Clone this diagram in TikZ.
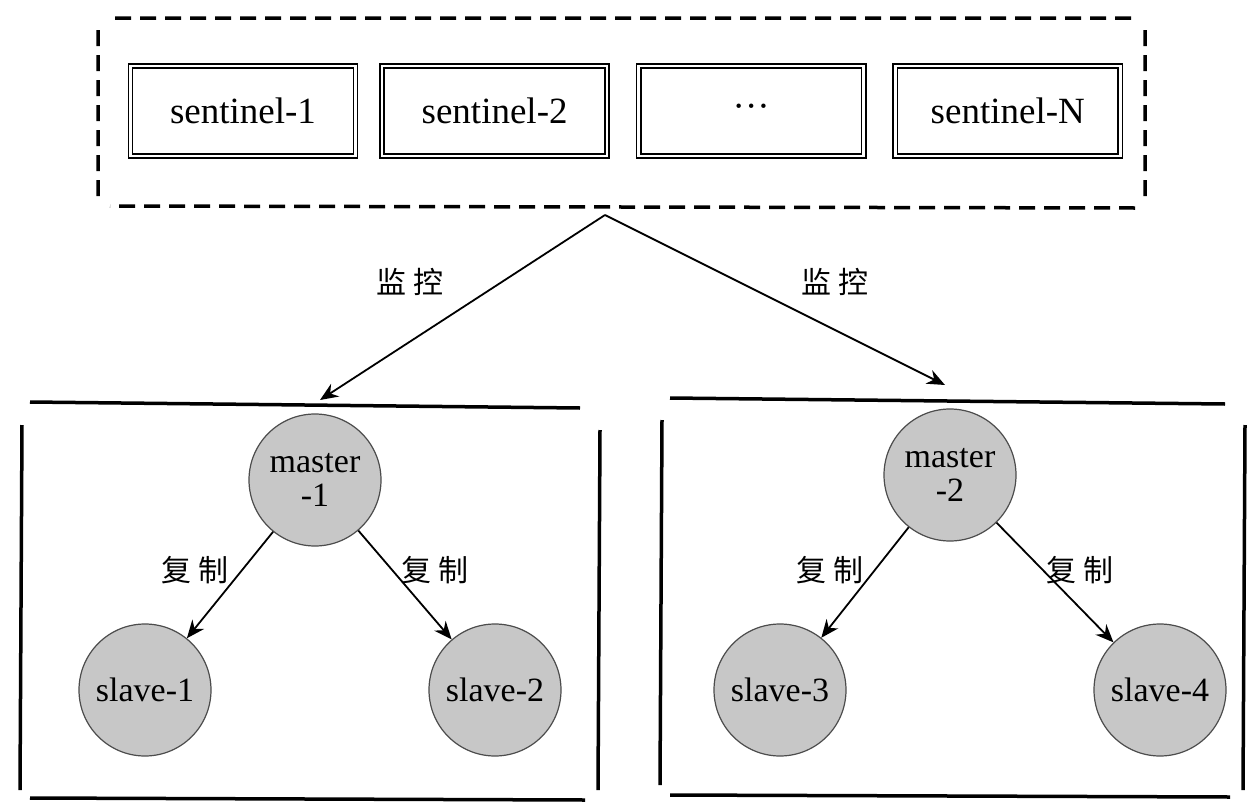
\documentclass[tikz,border=0pt]{standalone}
\usepackage{fontspec}
\setmainfont{Liberation Serif}
\newfontfamily\cjk{Noto Sans CJK SC}
\usetikzlibrary{arrows.meta,positioning}
\tikzset {
  % sentinel box
  sent/.style = {
    draw = black,
    double = white,
    double distance = 2.5pt,
    line width = 1.6pt,
    minimum width = 225pt,
    minimum height = 90pt,
    font = \fontsize{37}{40}\selectfont
  },
  % redis server
  server/.style = {
    draw = black!70,
    line width = 1.2pt,
    fill = black!22,
    circle,
    minimum size = 132pt,
    inner sep = 0,
    align = center,
    font = \fontsize{34}{34}\selectfont
  },
  % chinese label
  lbl/.style = {
    font = \cjk\fontsize{30}{32}\selectfont
  },
  arr/.style = {
    draw = black,
    line width = 1.8pt,
    -{Stealth[length=18pt,width=15pt]}
  },
  frame/.style = {
    draw = black,
    line width = 3.5pt
  },
  node distance = 25pt
}
\begin{document}
\begin{tikzpicture}[x=1pt,y=-1pt]
    \useasboundingbox (0,0) rectangle (1258,811);

    % sentinels
    \node[sent] (s1) at (243,111) {sentinel-1};
    \node[sent] (s2) [right=of s1] {sentinel-2};
    \node[sent] (s3) [right=30pt of s2] {···};
    \node[sent] (sn) [right=30pt of s3] {sentinel-N};
    \draw[frame, dash pattern=on 16pt off 9pt] (115,18) -- (1135,18)
      (1145,30) -- (1145,200) (1135,208) -- (110,206) (98,196) -- (98,28);

    \coordinate (top) at (605,215);

    % clusters
    \draw[frame] (30,402) -- (580,408) (600,430) -- (598,790)
      (585,800) -- (30,798) (20,790) -- (22,425);
    \draw[frame] (670,398) -- (1225,404) (1245,425) -- (1243,790)
      (1230,797) -- (670,795) (660,785) -- (662,420);

    \node[server] (m1) at (315,480) {master\\-1};
    \node[server] (sl1) at (145,690) {slave-1};
    \node[server] (sl2) at (495,690) {slave-2};
    \node[server] (m2) at (950,475) {master\\-2};
    \node[server] (sl3) at (780,690) {slave-3};
    \node[server] (sl4) at (1160,690) {slave-4};

    % monitoring
    \draw[arr] (top) -- (320,400);
    \draw[arr] (top) -- (945,385);
    \node[lbl] at (410,282) {监 控};
    \node[lbl] at (835,282) {监 控};

    % replication
    \draw[arr] (m1) -- (sl1);
    \draw[arr] (m1) -- (sl2);
    \draw[arr] (m2) -- (sl3);
    \draw[arr] (m2) -- (sl4);
    \node[lbl] at (195,570) {复 制};
    \node[lbl] at (435,570) {复 制};
    \node[lbl] at (830,570) {复 制};
    \node[lbl] at (1080,570) {复 制};
\end{tikzpicture}
\end{document}
